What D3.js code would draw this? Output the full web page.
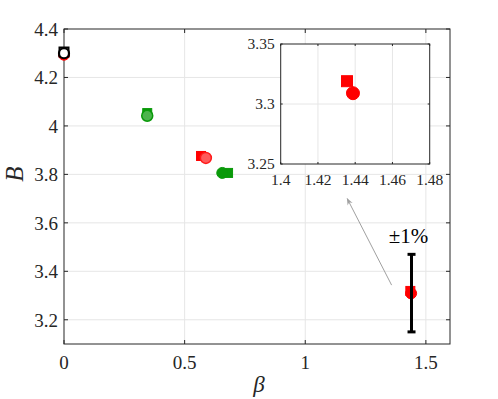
<!DOCTYPE html>
<html>
<head>
<meta charset="utf-8">
<script src="https://cdn.jsdelivr.net/npm/d3@7"></script>
<style>
  body { margin: 0; background: #fff; }
  #wrap { position: relative; width: 498px; height: 399px; }
  #wrap svg { position: absolute; left: 0; top: 0; }
</style>
</head>
<body>
<div id="wrap"><svg id="chart" width="498" height="399"></svg></div>
<script>
// tick labels
var xTicks = [0, 0.5, 1, 1.5];
var yTicks = [3.2, 3.4, 3.6, 3.8, 4, 4.2, 4.4];
var insetXTicks = [1.4, 1.42, 1.44, 1.46, 1.48];
var insetYTicks = [3.25, 3.3, 3.35];

// series, [beta, B]
var blackSquare = [[0, 4.305]];
var blackCircle = [[0, 4.300]];
var redSquare = [[0.568, 3.876], [1.4356, 3.319]];
var redCircle = [[0, 4.294], [1.4388, 3.309]];
var redCircleLight = [[0.588, 3.868]];
var greenSquare = [[0.345, 4.053], [0.680, 3.806]];
var greenCircleLight = [[0.345, 4.042]];
var greenCircle = [[0.656, 3.806]];

// +-1% error bar and arrow (data coords)
var errBar = [1.4405, 3.15, 3.47];
var arrowFrom = [1.358, 3.343];
var arrowTo = [1.174, 3.70];

var svg = d3.select("#chart");
var wrap = d3.select("#wrap");
var m = {left: 64, top: 29, w: 386, h: 315};

var x = d3.scaleLinear().domain([0, 1.6]).range([m.left, m.left + m.w]);
var y = d3.scaleLinear().domain([3.1, 4.4]).range([m.top + m.h, m.top]);

var axisCol = "#262626";
var gridCol = "#e6e6e6";

// html text placed by its baseline, whole style written inline
function htmlText(px, baseY, str, size, anchor, opts) {
    opts = opts || {};
    var shift = anchor == "middle" ? "-50%" : (anchor == "end" ? "-100%" : "0");
    var css = "position:absolute;font-family:'Liberation Serif';line-height:1;white-space:nowrap;" +
        "left:" + px + "px;top:" + (baseY - 0.8375 * size) + "px;font-size:" + size + "px;" +
        "font-style:" + (opts.italic ? "italic" : "normal") + ";color:" + (opts.color || axisCol) + ";" +
        "transform:" + (opts.transform || "translateX(" + shift + ")") + ";";
    return wrap.append("div").attr("style", css).text(str);
}

// grid
var g = svg.append("g");
g.selectAll(".gx").data(xTicks.filter(function (d) { return d > 0; })).enter().append("line")
    .attr("x1", d => x(d)).attr("x2", d => x(d))
    .attr("y1", m.top).attr("y2", m.top + m.h)
    .style("stroke", gridCol).style("stroke-width", 1);
g.selectAll(".gy").data(yTicks.filter(function (d) { return d < 4.4; })).enter().append("line")
    .attr("x1", m.left).attr("x2", m.left + m.w)
    .attr("y1", d => y(d)).attr("y2", d => y(d))
    .style("stroke", gridCol).style("stroke-width", 1);

// box with inward ticks on every side
function boxAxes(sel, xs, ys, xt, yt, fontSize, tickLen, fmt, labelGapY) {
    var x0 = xs.range()[0], x1 = xs.range()[1], y0 = ys.range()[1], y1 = ys.range()[0];
    sel.append("rect").attr("x", x0).attr("y", y0).attr("width", x1 - x0).attr("height", y1 - y0)
        .style("fill", "none").style("stroke", axisCol).style("stroke-width", 1);
    xt.forEach(function (d) {
        sel.append("line").attr("x1", xs(d)).attr("x2", xs(d)).attr("y1", y1).attr("y2", y1 - tickLen)
            .style("stroke", axisCol);
        sel.append("line").attr("x1", xs(d)).attr("x2", xs(d)).attr("y1", y0).attr("y2", y0 + tickLen)
            .style("stroke", axisCol);
        htmlText(xs(d), y1 + labelGapY, fmt(d), fontSize, "middle");
    });
    yt.forEach(function (d) {
        sel.append("line").attr("x1", x0).attr("x2", x0 + tickLen).attr("y1", ys(d)).attr("y2", ys(d))
            .style("stroke", axisCol);
        sel.append("line").attr("x1", x1).attr("x2", x1 - tickLen).attr("y1", ys(d)).attr("y2", ys(d))
            .style("stroke", axisCol);
        htmlText(x0 - 6, ys(d) + 0.35 * fontSize, fmt(d), fontSize, "end");
    });
}
boxAxes(svg.append("g"), x, y, xTicks, yTicks, 19, 4, d3.format("~g"), 25);

// markers
function squares(data, size, fill, stroke, sw, xs, ys, parent) {
    (parent || svg).selectAll(null).data(data).enter().append("rect")
        .attr("x", d => xs(d[0]) - size / 2).attr("y", d => ys(d[1]) - size / 2)
        .attr("width", size).attr("height", size)
        .style("fill", fill).style("stroke", stroke).style("stroke-width", sw);
}
function circles(data, r, fill, stroke, sw, xs, ys, parent) {
    (parent || svg).selectAll(null).data(data).enter().append("circle")
        .attr("cx", d => xs(d[0])).attr("cy", d => ys(d[1])).attr("r", r)
        .style("fill", fill).style("stroke", stroke).style("stroke-width", sw);
}

squares(greenSquare, 9, "#0a9a0a", "#0a9a0a", 1, x, y);
circles(greenCircleLight, 5.5, "#4cb44c", "#0a9a0a", 1.5, x, y);
circles(greenCircle, 5.5, "#0a9a0a", "#0a9a0a", 1, x, y);
squares(redSquare, 9, "#ff0000", "#ff0000", 1, x, y);
circles(redCircleLight, 5.5, "#ff5a5a", "#ff1a1a", 1.5, x, y);
circles(redCircle, 5.5, "#ff0000", "#ff0000", 1, x, y);
squares(blackSquare, 9, "#fff", "#000", 2, x, y);
circles(blackCircle, 5, "#fff", "#000", 2.2, x, y);

// error bar
var eb = svg.append("g").style("stroke", "#000").style("stroke-width", 3);
eb.append("line").attr("x1", x(errBar[0])).attr("x2", x(errBar[0])).attr("y1", y(errBar[1])).attr("y2", y(errBar[2]));
eb.append("line").attr("x1", x(errBar[0]) - 4).attr("x2", x(errBar[0]) + 4).attr("y1", y(errBar[1])).attr("y2", y(errBar[1]));
eb.append("line").attr("x1", x(errBar[0]) - 4).attr("x2", x(errBar[0]) + 4).attr("y1", y(errBar[2])).attr("y2", y(errBar[2]));
htmlText(x(errBar[0]) - 3, y(errBar[2]) - 11, "±1%", 21, "middle", {color: "#000"});

// arrow
svg.append("defs").append("marker").attr("id", "ah")
    .attr("viewBox", "0 0 10 10").attr("refX", 9).attr("refY", 5)
    .attr("markerWidth", 7).attr("markerHeight", 7).attr("orient", "auto")
    .append("path").attr("d", "M0,1L10,5L0,9L3,5Z").style("fill", "#a0a0a0");
svg.append("line")
    .attr("x1", x(arrowFrom[0])).attr("y1", y(arrowFrom[1]))
    .attr("x2", x(arrowTo[0])).attr("y2", y(arrowTo[1]))
    .style("stroke", "#a0a0a0").style("stroke-width", 1)
    .attr("marker-end", "url(#ah)");

// inset
var ix = d3.scaleLinear().domain([1.4, 1.48]).range([280.7, 429.7]);
var iy = d3.scaleLinear().domain([3.25, 3.35]).range([164, 44]);
var ins = svg.append("g");
ins.append("rect").attr("x", 280.7).attr("y", 44).attr("width", 149).attr("height", 120).style("fill", "#fff");
ins.selectAll(null).data(insetXTicks.slice(1, -1)).enter().append("line")
    .attr("x1", d => ix(d)).attr("x2", d => ix(d)).attr("y1", 44).attr("y2", 164)
    .style("stroke", gridCol);
ins.selectAll(null).data(insetYTicks.slice(1, -1)).enter().append("line")
    .attr("x1", 280.7).attr("x2", 429.7).attr("y1", d => iy(d)).attr("y2", d => iy(d))
    .style("stroke", gridCol);
svg.append("clipPath").attr("id", "insclip").append("rect")
    .attr("x", 280.7).attr("y", 44).attr("width", 149).attr("height", 120);
var insPts = ins.append("g").attr("clip-path", "url(#insclip)");
squares(redSquare, 11, "#ff0000", "#ff0000", 1, ix, iy, insPts);
circles(redCircle, 6.5, "#ff0000", "#ff0000", 1, ix, iy, insPts);
boxAxes(ins, ix, iy, insetXTicks, insetYTicks, 15.5, 2, d3.format("~g"), 21);

// axis labels
htmlText(14, m.top + m.h / 2 + 0.3375 * 25, "B", 25, "middle",
    {italic: true, transform: "translate(-50%,-50%) rotate(-90deg)"});
htmlText(m.left + m.w / 2 + 2, 392, "β", 23, "middle", {italic: true});
</script>
</body>
</html>
